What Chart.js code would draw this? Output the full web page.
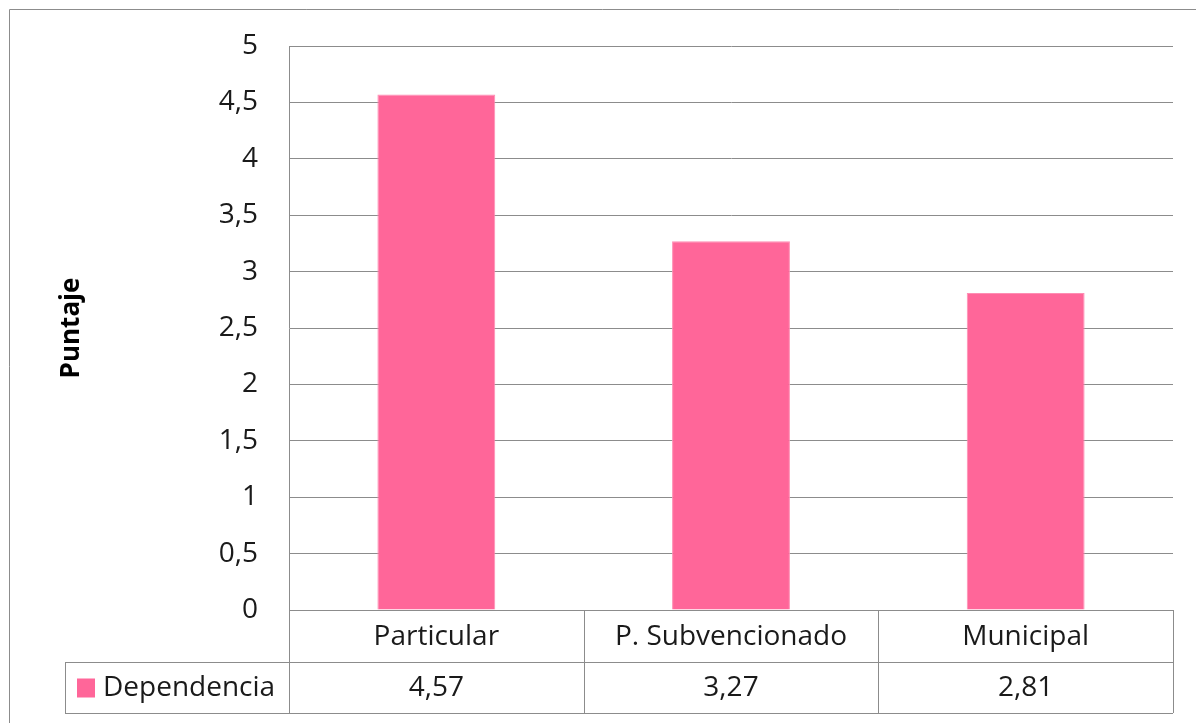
<!DOCTYPE html>
<html>
<head>
<meta charset="utf-8">
<script src="https://cdn.jsdelivr.net/npm/chart.js@4/dist/chart.umd.min.js"></script>
<style>
  html, body { margin: 0; padding: 0; background: #ffffff; }
  #wrap { position: relative; width: 1196px; height: 723px; }
</style>
</head>
<body>
<div id="wrap"><canvas id="c" width="1196" height="723"></canvas></div>
<script>
// Puntaje promedio por dependencia del establecimiento
const categories = ['Particular', 'P. Subvencionado', 'Municipal'];
const seriesName = 'Dependencia';
const seriesValues = [4.57, 3.27, 2.81];
const yTicks = [0, 0.5, 1, 1.5, 2, 2.5, 3, 3.5, 4, 4.5, 5];
const yTitle = 'Puntaje';

const FONT = '"Open Sans", "Noto Sans", sans-serif';
const FONT_SIZE = 28;
const LINE = '#8c8c8c';
const BAR = '#ff6699';
const TEXT = '#1a1a1a';

const fmt = v => String(v).replace('.', ',');

// Data table drawn under the plot, aligned with the category scale
const dataTable = {
  id: 'dataTable',
  afterDraw(chart) {
    const ctx = chart.ctx;
    const x = chart.scales.x;
    const area = chart.chartArea;
    const row1Top = area.bottom;
    const row2Top = area.bottom + 52;
    const bottom = area.bottom + 103;
    const legendLeft = 65;
    const half = (x.getPixelForValue(1) - x.getPixelForValue(0)) / 2;

    ctx.save();
    ctx.strokeStyle = LINE;
    ctx.lineWidth = 1;
    const h = (x1, x2, y) => { ctx.beginPath(); ctx.moveTo(x1, Math.round(y) + 0.5); ctx.lineTo(x2, Math.round(y) + 0.5); ctx.stroke(); };
    const v = (xx, y1, y2) => { ctx.beginPath(); ctx.moveTo(Math.round(xx) + 0.5, y1); ctx.lineTo(Math.round(xx) + 0.5, y2); ctx.stroke(); };

    h(area.left, area.right, row1Top);
    h(legendLeft, area.right, row2Top);
    h(legendLeft, area.right, bottom);
    v(legendLeft, row2Top, bottom);
    v(area.left, row1Top, bottom);
    categories.forEach((c, i) => {
      v(x.getPixelForValue(i) + half, row1Top, bottom);
    });

    ctx.fillStyle = TEXT;
    ctx.font = FONT_SIZE + 'px ' + FONT;
    ctx.textAlign = 'center';
    ctx.textBaseline = 'middle';
    categories.forEach((c, i) => {
      const cx = x.getPixelForValue(i);
      ctx.fillText(c, cx, (row1Top + row2Top) / 2 + 1);
      ctx.fillText(fmt(seriesValues[i]), cx, (row2Top + bottom) / 2 + 1);
    });

    // legend key
    const my = (row2Top + bottom) / 2;
    ctx.fillStyle = BAR;
    ctx.fillRect(77, my - 9, 18, 19);
    ctx.fillStyle = TEXT;
    ctx.textAlign = 'left';
    ctx.fillText(seriesName, 103, my + 1);

    // outer frame
    ctx.strokeStyle = LINE;
    ctx.beginPath();
    ctx.moveTo(9.5, chart.height);
    ctx.lineTo(9.5, 9.5);
    ctx.lineTo(chart.width, 9.5);
    ctx.stroke();
    ctx.restore();
  }
};

new Chart(document.getElementById('c'), {
  type: 'bar',
  data: {
    labels: categories,
    datasets: [{
      label: seriesName,
      data: seriesValues,
      backgroundColor: BAR,
      borderColor: '#ff8db3',
      borderWidth: 1,
      barPercentage: 1,
      categoryPercentage: 0.4
    }]
  },
  options: {
    responsive: false,
    animation: false,
    devicePixelRatio: 1,
    layout: { padding: { left: 46, top: 46, right: 23, bottom: 113 } },
    plugins: {
      legend: { display: false },
      tooltip: { enabled: false }
    },
    scales: {
      x: {
        display: false
      },
      y: {
        min: 0,
        max: 5,
        afterBuildTicks(scale) { scale.ticks = yTicks.map(v => ({ value: v })); },
        afterFit(scale) { scale.width = 289 - 46; },
        grid: { color: LINE, lineWidth: 1, drawTicks: false },
        border: { color: LINE, width: 1 },
        ticks: {
          color: TEXT,
          padding: 31,
          font: { family: FONT, size: FONT_SIZE, lineHeight: 1 },
          callback: v => fmt(v)
        },
        title: {
          display: true,
          text: yTitle,
          color: '#000000',
          font: { family: FONT, size: 26, weight: 'bold' },
          padding: { top: 10, bottom: 0 }
        }
      }
    }
  },
  plugins: [dataTable]
});
</script>
</body>
</html>
